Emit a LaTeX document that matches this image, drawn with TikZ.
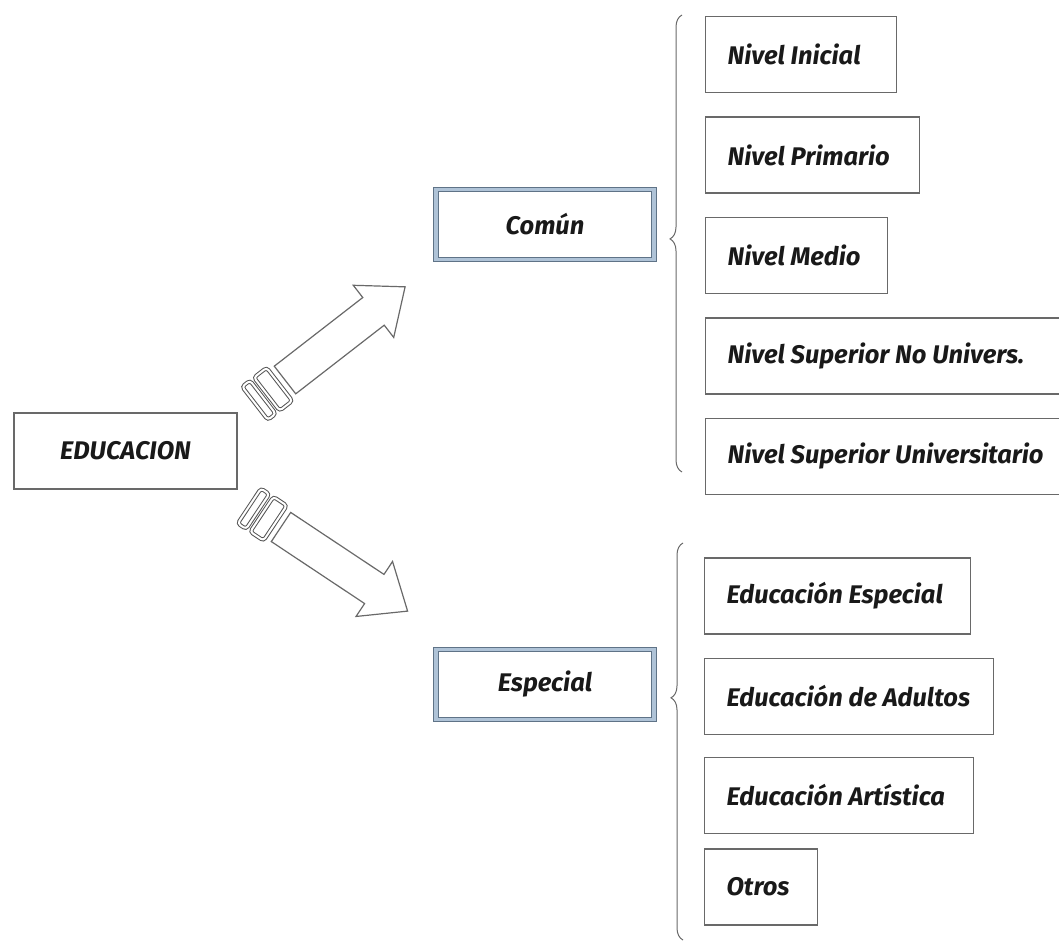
\documentclass[tikz,border=0pt]{standalone}
\usepackage{fontspec}
\setmainfont{Fira Sans}
\usetikzlibrary{positioning,decorations.pathreplacing}
\tikzset{>=stealth}
\definecolor{linegray}{RGB}{105,105,105}
\definecolor{edgeblue}{RGB}{95,115,135}
\definecolor{bandblue}{RGB}{175,195,215}
\tikzset{
  box/.style={draw=linegray, line width=1.2pt, text=black!90,
    font=\fontsize{25.5}{31}\selectfont\bfseries\itshape},
  item/.style={box, anchor=west, inner xsep=22pt, minimum height=76pt},
  branch/.style={box, draw=edgeblue, double=bandblue, double distance=3.5pt,
    line width=1pt, minimum width=218pt, minimum height=70pt},
  bracket/.style={draw=linegray, line width=1pt, decorate},
  fat/.style={draw=linegray, line width=1.2pt, fill=white},
  ring/.style={draw=linegray!80!black, line width=1pt, double=white, double distance=2pt,
    rounded corners=3pt}
}
\begin{document}
\begin{tikzpicture}[x=1pt,y=-1pt]
\useasboundingbox (0,0) rectangle (1059,941);

\node[box, minimum width=223pt, minimum height=76pt] (edu) at (125.5,451) {EDUCACION};
\node[branch] (comun) at (545,224.5) {Común};
\node[branch] (especial) at (545,684.5) {Especial};

% arrows with rings at the base
\foreach \x/\y/\a in {285/380/37.8, 281/527/-33.6} {
\begin{scope}[shift={(\x,\y)}, rotate=\a]
\draw[fat] (0,-17.5) -- (112,-17.5) -- (112,-33) -- (152,0) -- (112,33)
  -- (112,17.5) -- (0,17.5) -- cycle;
\draw[ring] (-23,-21) rectangle (-7,21);
\draw[ring] (-38,-21) rectangle (-28,21);
\end{scope}
};

\foreach \t/\w [count=\i] in {Nivel Inicial/147, Nivel Primario/170, Nivel Medio/138,
  Nivel Superior No Univers./320, Nivel Superior Universitario/320} {
\node[item] (niv\i) at (705,54.5+100.5*\i-100.5) {\makebox[\w pt][l]{\t}};
};

\foreach \t/\w/\y [count=\i] in {Educación Especial/222/596, Educación de Adultos/245/696.5,
  Educación Artística/225/795.5, Otros/69/887} {
\node[item] (edc\i) at (704,\y) {\makebox[\w pt][l]{\t}};
};

\coordinate (cbot) at (682,472);
\coordinate (ctop) at (682,15);
\coordinate (ebot) at (683,940);
\coordinate (etop) at (683,543);
\draw[bracket, decoration={brace, amplitude=12pt, aspect=0.51}] (cbot) -- (ctop);
\draw[bracket, decoration={brace, amplitude=12pt, aspect=0.61}] (ebot) -- (etop);
\end{tikzpicture}
\end{document}
